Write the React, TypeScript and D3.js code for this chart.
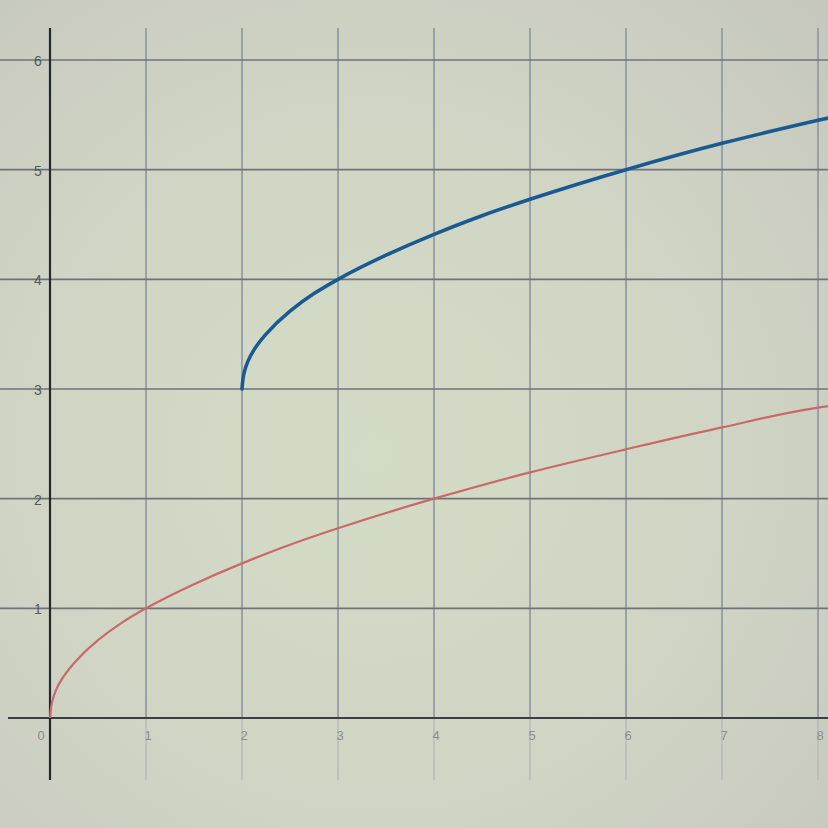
import React from "react";
import * as d3 from "d3";

const xTicks = [0, 1, 2, 3, 4, 5, 6, 7, 8];
const yTicks = [0, 1, 2, 3, 4, 5, 6];
const xTickLabels = ["0", "1", "2", "3", "4", "5", "6", "7", "8"];
const yTickLabels = ["", "1", "2", "3", "4", "5", "6"];

// red curve (y = √x)
const redX = [0, 0.02, 0.06, 0.12, 0.25, 0.5, 0.75, 1, 1.5, 2, 2.5, 3, 4, 5, 6, 7, 8, 8.15];
const redY = [0, 0.14, 0.25, 0.35, 0.5, 0.71, 0.87, 1, 1.22, 1.41, 1.58, 1.73, 2, 2.24, 2.45, 2.65, 2.83, 2.85];

// blue curve (y = √(x−2) + 3)
const blueX = [2, 2.02, 2.06, 2.12, 2.25, 2.5, 2.75, 3, 3.5, 4, 4.5, 5, 6, 7, 8, 8.15];
const blueY = [3, 3.14, 3.25, 3.35, 3.5, 3.71, 3.87, 4, 4.22, 4.41, 4.58, 4.73, 5, 5.24, 5.45, 5.48];

const W = 828;
const H = 828;

export default function App() {
  const x = d3.scaleLinear().domain([0, 8]).range([50, 818]);
  const y = d3.scaleLinear().domain([0, 6]).range([718, 60]);

  const line = d3
    .line<[number, number]>()
    .x((d) => x(d[0]))
    .y((d) => y(d[1]))
    .curve(d3.curveMonotoneY);

  const redPts: [number, number][] = redX.map((v, i) => [v, redY[i]]);
  const bluePts: [number, number][] = blueX.map((v, i) => [v, blueY[i]]);

  const top = 28;
  const bottom = 780;

  return (
    <svg
      width={W}
      height={H}
      style={{ position: "absolute", left: 0, top: 0, display: "block" }}
    >
      <defs>
        <radialGradient id="bg" cx="45%" cy="55%" r="75%">
          <stop offset="0%" stopColor="#d3dcc6" />
          <stop offset="60%" stopColor="#d0d4c4" />
          <stop offset="100%" stopColor="#c6c8bd" />
        </radialGradient>
      </defs>
      <rect x={0} y={0} width={W} height={H} fill="url(#bg)" />

      {/* vertical grid lines */}
      {xTicks.slice(1).map((t) => (
        <g key={"vx" + t}>
          <line x1={x(t)} x2={x(t)} y1={top} y2={y(0)} stroke="#8c93a6" strokeWidth={1.6} />
          <line x1={x(t)} x2={x(t)} y1={y(0)} y2={bottom} stroke="#a9aeb5" strokeWidth={1} />
        </g>
      ))}

      {/* horizontal grid lines */}
      {yTicks.slice(1).map((t) => (
        <line key={"hy" + t} x1={0} x2={W} y1={y(t)} y2={y(t)} stroke="#6f7378" strokeWidth={1.6} />
      ))}

      {/* axes */}
      <line x1={8} x2={W} y1={y(0)} y2={y(0)} stroke="#3a3d42" strokeWidth={2} />
      <line x1={x(0)} x2={x(0)} y1={top} y2={bottom} stroke="#25282d" strokeWidth={2.2} />

      {/* tick labels */}
      {xTicks.map((t, i) => (
        <text
          key={"xl" + t}
          x={x(t) + (t === 0 ? -9 : 2)}
          y={y(0) + 22}
          textAnchor="middle"
          fontFamily="Liberation Sans, Arial, sans-serif"
          fontSize={13}
          fill="#8a8d92"
        >
          {xTickLabels[i]}
        </text>
      ))}
      {yTicks.map((t, i) =>
        yTickLabels[i] ? (
          <text
            key={"yl" + t}
            x={x(0) - 12}
            y={y(t) + 6}
            textAnchor="middle"
            fontFamily="Liberation Sans, Arial, sans-serif"
            fontSize={14}
            fill="#55585c"
          >
            {yTickLabels[i]}
          </text>
        ) : null
      )}

      {/* curves */}
      <path d={line(redPts) || ""} fill="none" stroke="#c8696a" strokeWidth={2.2} />
      <path d={line(bluePts) || ""} fill="none" stroke="#1a5a92" strokeWidth={3.6} strokeLinecap="round" />
    </svg>
  );
}
